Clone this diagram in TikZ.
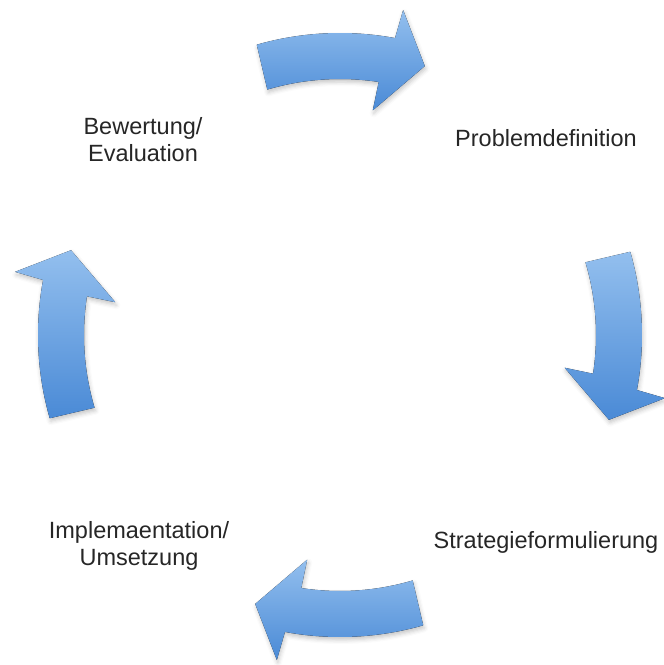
\documentclass[tikz,border=0pt]{standalone}
\usepackage{fontspec}
\setmainfont{Liberation Sans}
\usepackage{tikz}
\usetikzlibrary{calc,shadows.blur}

\definecolor{arrowtop}{HTML}{93BFEE}
\definecolor{arrowbottom}{HTML}{4A8AD6}

\begin{document}
\begin{tikzpicture}[x=1pt,y=1pt,
        cyclearrow/.style={top color=arrowtop,bottom color=arrowbottom,
                blur shadow={shadow xshift=1pt,shadow yshift=-3pt,
                        shadow blur radius=4pt,shadow opacity=22}},
        phase/.style={align=center,text=black!85,
                font=\fontsize{23.5}{27}\selectfont}]

        \useasboundingbox (0,0) rectangle (664,665);
        \coordinate (c) at (340,330);

        \node[phase] (problem) at (546,527) {Problemdefinition};
        \node[phase] (strategie) at (546,123) {Strategieformulierung};
        \node[phase] (umsetzung) at (139,119) {Implemaentation/\\Umsetzung};
        \node[phase] (bewertung) at (143,525) {Bewertung/\\Evaluation};

        % bent block arrows round the cycle
        \foreach \a in {0,-90,-180,-270}
                \fill[cyclearrow,shift={(c)}]
                        (\a+106:302) arc[start angle=\a+106,end angle=\a+79.5,radius=302]
                        -- (\a+79:331) -- (\a+72.5:282) -- (\a+81.7:227)
                        -- (\a+81.3:256) arc[start angle=\a+81.3,end angle=\a+106.5,radius=256]
                        -- cycle;
    \end{tikzpicture}
\end{document}
